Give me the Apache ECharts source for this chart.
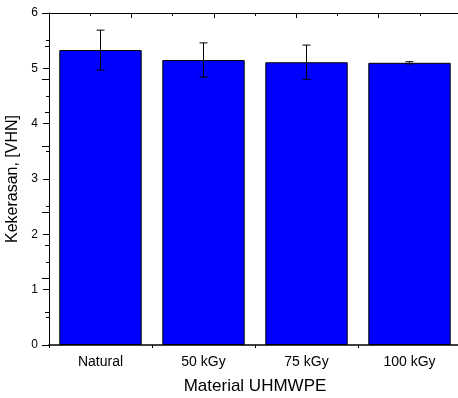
<!DOCTYPE html>
<html>
<head>
<meta charset="utf-8">
<script src="https://cdn.jsdelivr.net/npm/echarts@6/dist/echarts.min.js"></script>
<style>
  html, body { margin: 0; padding: 0; background: #fff; }
  #chart { width: 458px; height: 398px; }
</style>
</head>
<body>
<div id="chart"></div>
<script>
// data
var categories = ["Natural", "50 kGy", "75 kGy", "100 kGy"];
var hardness = [5.33, 5.15, 5.11, 5.10];
var hardnessErr = [0.36, 0.31, 0.31, 0.02];
var yTicks = [0, 1, 2, 3, 4, 5, 6];

var font = "Liberation Sans, Arial, sans-serif";
var chart = echarts.init(document.getElementById("chart"));

var errData = categories.map(function (c, i) {
  return [i, hardness[i] - hardnessErr[i], hardness[i] + hardnessErr[i]];
});

var option = {
  animation: false,
  grid: { left: 49, top: 13, width: 412, height: 332, outerBoundsMode: "none", containLabel: false },
  xAxis: [
    {
      type: "category",
      data: categories,
      position: "bottom",
      axisLine: { lineStyle: { color: "#000", width: 1.5 } },
      axisTick: { alignWithLabel: true, length: 5, lineStyle: { color: "#000" } },
      axisLabel: { color: "#000", fontFamily: font, fontSize: 14, margin: 10 },
      name: "Material UHMWPE",
      nameLocation: "middle",
      nameGap: 33,
      nameTextStyle: { color: "#000", fontFamily: font, fontSize: 17 }
    },
    {
      // minor ticks between the categories
      type: "value", position: "bottom", min: 0, max: 4, interval: 1,
      axisLine: { show: false },
      axisTick: { show: true, length: 3, lineStyle: { color: "#000" } },
      axisLabel: { show: false },
      splitLine: { show: false }
    },
    {
      type: "value", position: "top", min: 0, max: 5, interval: 1,
      axisLine: { show: true, lineStyle: { color: "#000", width: 1 } },
      axisTick: { show: true, inside: true, length: 5, lineStyle: { color: "#000" } },
      minorTick: { show: true, splitNumber: 2, length: 3, lineStyle: { color: "#000" } },
      axisLabel: { show: false },
      splitLine: { show: false }
    }
  ],
  yAxis: [
    {
      type: "value",
      min: yTicks[0],
      max: yTicks[yTicks.length - 1],
      interval: 1,
      axisLine: { show: true, lineStyle: { color: "#000", width: 1 } },
      axisTick: { show: true, length: 6, lineStyle: { color: "#000" } },
      minorTick: { show: true, splitNumber: 2, length: 3, lineStyle: { color: "#000" } },
      axisLabel: { color: "#000", fontFamily: font, fontSize: 12, margin: 11 },
      splitLine: { show: false },
      name: "Kekerasan, [VHN]",
      nameLocation: "middle",
      nameGap: 25,
      nameTextStyle: { color: "#000", fontFamily: font, fontSize: 16 }
    },
    {
      // right frame: only its inward ticks reach into the picture
      type: "value", position: "right", min: 0, max: 5, interval: 1,
      axisLine: { show: false },
      axisTick: { show: true, inside: true, length: 7, lineStyle: { color: "#000" } },
      minorTick: { show: true, splitNumber: 2, length: 4, lineStyle: { color: "#000" } },
      axisLabel: { show: false },
      splitLine: { show: false }
    }
  ],
  series: [
    {
      type: "bar",
      data: hardness,
      xAxisIndex: 0,
      yAxisIndex: 0,
      barWidth: "80%",
      itemStyle: { color: "#0000ff", borderColor: "#000", borderWidth: 1 }
    },
    {
      type: "custom",
      xAxisIndex: 0,
      yAxisIndex: 0,
      data: errData,
      z: 10,
      renderItem: function (params, api) {
        var x = api.value(0);
        var lo = api.coord([x, api.value(1)]);
        var hi = api.coord([x, api.value(2)]);
        var cap = 4;
        var style = { stroke: "#000", lineWidth: 1 };
        return {
          type: "group",
          children: [
            { type: "line", shape: { x1: lo[0], y1: lo[1], x2: hi[0], y2: hi[1] }, style: style },
            { type: "line", shape: { x1: hi[0] - cap, y1: hi[1], x2: hi[0] + cap, y2: hi[1] }, style: style },
            { type: "line", shape: { x1: lo[0] - cap, y1: lo[1], x2: lo[0] + cap, y2: lo[1] }, style: style }
          ]
        };
      }
    }
  ]
};

chart.setOption(option);
</script>
</body>
</html>
